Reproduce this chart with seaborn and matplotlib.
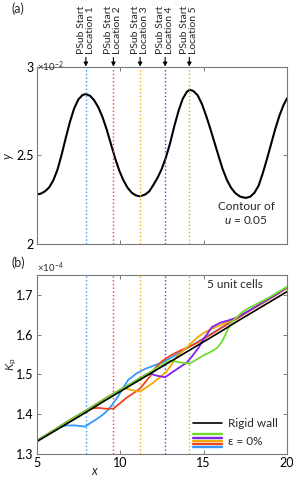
import matplotlib
matplotlib.use("Agg")
import numpy as np
import pandas as pd
import seaborn as sns
import matplotlib.pyplot as plt
from matplotlib.legend_handler import HandlerBase
from matplotlib.lines import Line2D

# ---------------- data ----------------
start_locs = [7.95, 9.6, 11.2, 12.7, 14.15]
start_labels = ["PSub Start\nLocation 1", "PSub Start\nLocation 2", "PSub Start\nLocation 3",
                "PSub Start\nLocation 4", "PSub Start\nLocation 5"]
series_names = ["Location 1", "Location 2", "Location 3", "Location 4", "Location 5"]
series_colors = ["#3399FF", "#EE4422", "#F5A800", "#8022F0", "#6EDD2C"]

# contour of u = 0.05 (panel a), y in units of 1e-2
contour_x = [5.0, 5.25, 5.5, 5.75, 6.0, 6.25, 6.5, 6.75, 7.0, 7.25, 7.5, 7.75, 7.95,
             8.2, 8.45, 8.7, 8.95, 9.2, 9.45, 9.7, 9.95, 10.2, 10.45, 10.7, 10.95, 11.2,
             11.5, 11.75, 12.0, 12.25, 12.5, 12.75, 13.0, 13.25, 13.5, 13.75, 14.0, 14.16,
             14.4, 14.65, 14.9, 15.15, 15.4, 15.65, 15.9, 16.15, 16.4, 16.65, 16.9, 17.2,
             17.53, 17.8, 18.05, 18.3, 18.55, 18.8, 19.05, 19.3, 19.55, 19.8, 20.0]
contour_y = [2.280, 2.285, 2.298, 2.320, 2.360, 2.420, 2.505, 2.600, 2.690, 2.765, 2.815,
             2.840, 2.845,
             2.836, 2.810, 2.770, 2.715, 2.645, 2.565, 2.485, 2.415, 2.360, 2.318, 2.290,
             2.275, 2.270,
             2.280, 2.298, 2.335, 2.375, 2.425, 2.490, 2.570, 2.665, 2.750, 2.818, 2.858,
             2.870,
             2.862, 2.838, 2.790, 2.725, 2.652, 2.575, 2.497, 2.422, 2.362, 2.318, 2.288,
             2.268, 2.261,
             2.268, 2.290, 2.330, 2.400, 2.480, 2.565, 2.650, 2.725, 2.785, 2.821]

# panel b, K_p in units of 1e-4
rigid_x = [5, 6, 7, 8, 9, 10, 11, 12, 13, 14, 15, 16, 17, 18, 19, 20]
rigid_k = [1.331, 1.356, 1.381, 1.406, 1.432, 1.457, 1.482, 1.507, 1.532, 1.557, 1.582,
           1.607, 1.633, 1.658, 1.683, 1.708]

loc1_x = [5, 5.5, 6, 6.4, 6.8, 7.3, 7.9, 8.3, 8.6, 9.0, 9.3, 9.6, 9.9, 10.2, 10.5, 11.0, 11.5,
          12.0, 12.5, 13, 13.5, 14, 14.5, 15, 15.5, 16, 16.5, 17, 17.5, 18, 18.5, 19, 19.5, 20]
loc1_k = [1.334, 1.346, 1.359, 1.368, 1.372, 1.372, 1.369, 1.380, 1.388, 1.400, 1.412, 1.428,
          1.446, 1.468, 1.487, 1.503, 1.514, 1.522, 1.530, 1.541, 1.553, 1.566, 1.578, 1.591,
          1.603, 1.616, 1.629, 1.642, 1.654, 1.667, 1.679, 1.692, 1.705, 1.718]

loc2_x = [5, 6, 7, 7.5, 8, 8.3, 8.7, 9.1, 9.6, 10.0, 10.4, 10.8, 11.2, 11.5, 11.8, 12.1, 12.5,
          13, 13.5, 14, 14.5, 15, 15.5, 16, 16.5, 17, 17.5, 18, 18.5, 19, 19.5, 20]
loc2_k = [1.333, 1.359, 1.386, 1.398, 1.410, 1.415, 1.416, 1.414, 1.414, 1.428, 1.442, 1.453,
          1.465, 1.480, 1.496, 1.516, 1.533, 1.547, 1.558, 1.567, 1.577, 1.589, 1.602, 1.615,
          1.628, 1.640, 1.653, 1.666, 1.678, 1.691, 1.704, 1.717]

loc3_x = [5, 6, 7, 8, 9, 9.6, 10.0, 10.3, 10.6, 10.9, 11.2, 11.6, 12.0, 12.4, 12.8, 13.1, 13.4,
          13.8, 14.2, 14.6, 15, 15.5, 16, 16.5, 17, 17.5, 18, 18.5, 19, 19.5, 20]
loc3_k = [1.333, 1.359, 1.385, 1.411, 1.437, 1.452, 1.462, 1.465, 1.462, 1.459, 1.457, 1.468,
          1.480, 1.493, 1.508, 1.526, 1.545, 1.560, 1.576, 1.592, 1.604, 1.615, 1.624, 1.633,
          1.643, 1.654, 1.666, 1.678, 1.691, 1.704, 1.717]

loc4_x = [5, 6, 7, 8, 9, 10, 11, 11.5, 11.8, 12.2, 12.7, 13.1, 13.5, 14.0, 14.3, 14.7, 15.1,
          15.5, 16.0, 16.5, 17, 17.5, 18, 18.5, 19, 19.5, 20]
loc4_k = [1.333, 1.359, 1.385, 1.410, 1.436, 1.461, 1.486, 1.499, 1.502, 1.497, 1.493, 1.505,
          1.516, 1.530, 1.545, 1.567, 1.595, 1.619, 1.630, 1.636, 1.643, 1.655, 1.667, 1.680,
          1.692, 1.705, 1.719]

loc5_x = [5, 6, 7, 8, 9, 10, 11, 12, 12.6, 13.0, 13.5, 14.16, 14.6, 15.0, 15.4, 15.8, 16.1,
          16.4, 16.6, 16.9, 17.3, 17.7, 18, 18.5, 19, 19.5, 20]
loc5_k = [1.333, 1.359, 1.385, 1.410, 1.436, 1.461, 1.486, 1.511, 1.527, 1.535, 1.531, 1.527,
          1.538, 1.548, 1.556, 1.566, 1.582, 1.608, 1.628, 1.640, 1.656, 1.667, 1.673, 1.684,
          1.695, 1.708, 1.720]

# ---------------- style ----------------
sns.set_theme(style="white")
plt.rcParams["font.family"] = ["Lato", "DejaVu Sans"]
plt.rcParams["mathtext.fontset"] = "custom"
plt.rcParams["mathtext.rm"] = "Lato"
plt.rcParams["mathtext.it"] = "Lato:italic"
plt.rcParams["mathtext.bf"] = "Lato:bold"
FRAME = "#7a7a7a"
FS = 9

fig = plt.figure(figsize=(2.93, 4.79), dpi=100)
ax1 = fig.add_axes([0.125, 0.49, 0.8545, 0.371])
ax2 = fig.add_axes([0.125, 0.052, 0.8545, 0.374])

for ax in (ax1, ax2):
    for s in ax.spines.values():
        s.set_color(FRAME)
        s.set_linewidth(0.8)
    ax.tick_params(direction="in", length=3, width=0.7, color=FRAME, labelsize=FS,
                   top=True, right=True, bottom=True, left=True, pad=2, labelcolor="black")
    ax.set_facecolor("white")

# ---------------- panel (a) ----------------
sns.lineplot(x=contour_x, y=contour_y, ax=ax1, color="black", lw=1.5, sort=False,
             estimator=None)
for loc, col, lab in zip(start_locs, series_colors, start_labels):
    ax1.axvline(loc, color=col, ls=":", lw=1.0)
    ax1.annotate(lab, xy=(loc, 1.0), xycoords=("data", "axes fraction"),
                 xytext=(0, 9), textcoords="offset points", rotation=90,
                 ha="center", va="bottom", fontsize=7.5, linespacing=1.0,
                 arrowprops=dict(arrowstyle="-|>", color="black", lw=0.8,
                                 shrinkA=0, shrinkB=0, mutation_scale=6, relpos=(0.5, 0.0)))
ax1.set_xlim(5, 20)
ax1.set_ylim(2, 3)
ax1.set_xticks([5, 10, 15, 20])
ax1.set_xticklabels([])
ax1.set_yticks([2, 2.5, 3])
ax1.set_yticklabels(["2", "2.5", "3"])
ax1.set_xlabel("")
ax1.set_ylabel("$y$", fontsize=FS, labelpad=0)
ax1.text(0.0, 1.0, r"$\times10^{-2}$", transform=ax1.transAxes, ha="left", va="center",
         fontsize=7)
ax1.text(17.55, 2.172, "Contour of\n$u$ = 0.05", ha="center", va="center", fontsize=8.5,
         linespacing=1.25)
fig.text(12 / 293, 1 - 9 / 479, "(a)", ha="left", va="center", fontsize=9)

# ---------------- panel (b) ----------------
for loc, col in zip(start_locs, series_colors):
    ax2.axvline(loc, color=col, ls=":", lw=1.0)

frames = []
for name, xs, ks in zip(series_names,
                        [loc1_x, loc2_x, loc3_x, loc4_x, loc5_x],
                        [loc1_k, loc2_k, loc3_k, loc4_k, loc5_k]):
    frames.append(pd.DataFrame({"x": xs, "K": ks, "series": name}))
df = pd.concat(frames, ignore_index=True)
sns.lineplot(data=df, x="x", y="K", hue="series", hue_order=series_names,
             palette=series_colors, ax=ax2, lw=1.3, sort=False, estimator=None, legend=False)
sns.lineplot(x=rigid_x, y=rigid_k, ax=ax2, color="black", lw=1.2, sort=False, estimator=None)

ax2.set_xlim(5, 20)
ax2.set_ylim(1.3, 1.75)
ax2.set_xticks([5, 10, 15, 20])
ax2.set_xticklabels(["5", "10", "15", "20"])
ax2.set_yticks([1.3, 1.4, 1.5, 1.6, 1.7])
ax2.set_yticklabels(["1.3", "1.4", "1.5", "1.6", "1.7"])
ax2.set_ylabel(r"$K_\mathrm{p}$", fontsize=8.5)
ax2.yaxis.set_label_coords(-0.07, 0.5)
ax2.set_xlabel("$x$", fontsize=FS)
ax2.xaxis.set_label_coords(0.233, -0.06)
ax2.text(0.0, 1.0, r"$\times10^{-4}$", transform=ax2.transAxes, ha="left", va="bottom",
         fontsize=7)
ax2.text(16.85, 1.727, "5 unit cells", ha="center", va="center", fontsize=8.5)
fig.text(12 / 293, 1 - 263 / 479, "(b)", ha="left", va="center", fontsize=9)


class StackKey:
    pass


class StackHandler(HandlerBase):
    def __init__(self, colors):
        super().__init__()
        self.colors = colors

    def create_artists(self, legend, orig_handle, xdescent, ydescent, width, height,
                       fontsize, trans):
        arts = []
        n = len(self.colors)
        sp = 2.2
        yc = (height - ydescent) / 2.0
        for i, c in enumerate(self.colors):
            y = yc + (n - 1) / 2.0 * sp - i * sp
            ln = Line2D([-xdescent, -xdescent + width], [y, y], color=c, lw=1.7)
            ln.set_transform(trans)
            arts.append(ln)
        return arts


legend_colors = [series_colors[4], series_colors[3], series_colors[2], series_colors[1],
                 series_colors[0]]
rigid_handle = Line2D([], [], color="black", lw=1.2)
leg = ax2.legend([rigid_handle, StackKey()], ["Rigid wall", "ε = 0%"],
                 handler_map={StackKey: StackHandler(legend_colors)},
                 loc="lower right", bbox_to_anchor=(0.995, -0.005), frameon=False,
                 fontsize=8.5, handlelength=2.4, handletextpad=0.5, labelspacing=0.6,
                 borderpad=0.2)

fig.savefig("out.png", dpi=100)
